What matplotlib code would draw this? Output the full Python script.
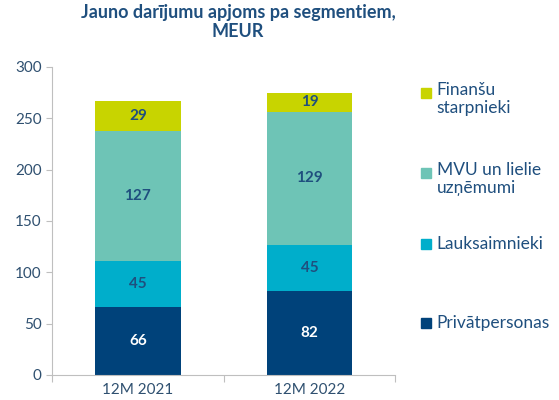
import matplotlib.pyplot as plt
from matplotlib.patches import Rectangle

plt.rcParams['font.family'] = ['Lato', 'DejaVu Sans']

categories = ['12M 2021', '12M 2022']
segments = ['Privātpersonas', 'Lauksaimnieki', 'MVU un lielie\nuzņēmumi', 'Finanšu\nstarpnieki']
values = [
    [66, 82],    # Privātpersonas
    [45, 45],    # Lauksaimnieki
    [127, 129],  # MVU un lielie uzņēmumi
    [29, 19],    # Finanšu starpnieki
]
colors = ['#00427a', '#00aecb', '#6ec4b6', '#c8d400']
label_colors = ['white', '#1f4f7e', '#1f4f7e', '#1f4f7e']
yticks = [0, 50, 100, 150, 200, 250, 300]

fig = plt.figure(figsize=(5.59, 4), dpi=100)
ax = fig.add_axes([0.093, 0.0625, 0.614, 0.77])

x = range(len(categories))
bottom = [0, 0]
for vals, c, lc in zip(values, colors, label_colors):
    ax.bar(x, vals, bottom=bottom, width=0.5, color=c)
    for i, v in enumerate(vals):
        ax.text(i, bottom[i] + v / 2, str(v), ha='center', va='center',
                fontsize=11, fontweight='bold', color=lc)
    bottom = [b + v for b, v in zip(bottom, vals)]

ax.set_xlim(-0.5, 1.5)
ax.set_ylim(0, 300)
ax.set_yticks(yticks)
ax.set_xticks([-0.5, 0.5, 1.5])
ax.set_xticklabels([])
ax.set_xticks(list(x), categories, minor=True)
ax.tick_params(axis='x', which='major', length=5, color='#bfbfbf')
ax.tick_params(axis='x', which='minor', length=0, labelsize=11, labelcolor='#2f5070', pad=6)
ax.tick_params(axis='y', length=4, color='#bfbfbf', labelsize=11, labelcolor='#2f5070')
for s in ['top', 'right']:
    ax.spines[s].set_visible(False)
for s in ['left', 'bottom']:
    ax.spines[s].set_color('#bfbfbf')

fig.text(0.426, 0.945, 'Jauno darījumu apjoms pa segmentiem,\nMEUR', ha='center', va='center',
         fontsize=13, fontweight='bold', color='#1f4f7e', linespacing=1.2)

# legend drawn by hand, top entry first
leg_y = [0.1925, 0.39, 0.5675, 0.7675]
for lab, c, y in zip(segments, colors, leg_y):
    fig.add_artist(Rectangle((0.753, y - 0.012), 0.018, 0.025, color=c, transform=fig.transFigure))
    if '\n' in lab:
        fig.text(0.781, y + 0.027, lab, ha='left', va='top', fontsize=12.5,
                 color='#1f4f7e', linespacing=1.15)
    else:
        fig.text(0.781, y, lab, ha='left', va='center', fontsize=12.5, color='#1f4f7e')

fig.savefig('out.png', dpi=100)
